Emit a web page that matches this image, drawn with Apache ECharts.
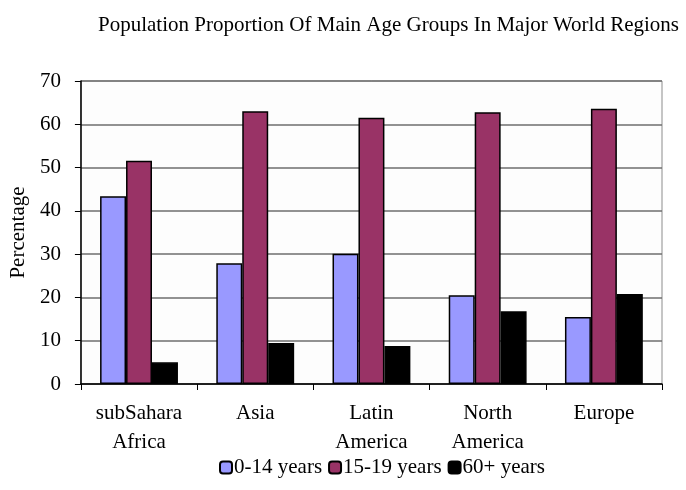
<!DOCTYPE html>
<html>
<head>
<meta charset="utf-8">
<script src="https://cdn.jsdelivr.net/npm/echarts@6/dist/echarts.min.js"></script>
<style>
html, body { margin: 0; padding: 0; background: #fff; }
#chart { width: 686px; height: 490px; }
</style>
</head>
<body>
<div id="chart"></div>
<script>
// regions along the x axis
const regions = ['subSahara\nAfrica', 'Asia', 'Latin\nAmerica', 'North\nAmerica', 'Europe'];
// percentage of population in each age group
const age0to14 = [43.4, 27.9, 30.1, 20.5, 15.5];
const age15to19 = [51.6, 63.0, 61.5, 62.8, 63.6];
const age60plus = [5.0, 9.5, 8.8, 16.8, 20.8];
const yTicks = [0, 10, 20, 30, 40, 50, 60, 70];

const font = '"Liberation Serif", "Times New Roman", serif';
const chart = echarts.init(document.getElementById('chart'));

const bar = (name, data, color) => ({
    name: name,
    type: 'bar',
    data: data,
    barGap: '0%',
    barCategoryGap: '33%',
    itemStyle: { color: color, borderColor: '#000', borderWidth: 1.5 },
    emphasis: { disabled: true }
});

chart.setOption({
    animation: false,
    textStyle: { fontFamily: font, color: '#000' },
    title: {
        text: 'Population Proportion Of Main Age Groups In Major World Regions',
        left: 93,
        top: 10,
        textStyle: { fontFamily: font, fontSize: 21, fontWeight: 'normal', color: '#000' }
    },
    legend: {
        bottom: 7,
        left: 214,
        itemWidth: 12,
        itemHeight: 12,
        itemGap: 6,
        textStyle: { fontFamily: font, fontSize: 21, color: '#000', padding: [0, 0, 0, -3] },
        data: ['0-14 years', '15-19 years', '60+ years']
    },
    grid: {
        left: 80, right: 24, top: 81, bottom: 106,
        show: true, borderColor: '#8c8c8c', borderWidth: 1, backgroundColor: '#fdfdfd'
    },
    xAxis: {
        type: 'category',
        data: regions,
        axisLine: { lineStyle: { color: '#000', width: 1.5 } },
        axisTick: { show: true, length: 6, lineStyle: { color: '#000' } },
        axisLabel: { fontFamily: font, fontSize: 21, color: '#000', lineHeight: 29, margin: 15 }
    },
    yAxis: {
        type: 'value',
        min: yTicks[0],
        max: yTicks[yTicks.length - 1],
        interval: 10,
        name: 'Percentage',
        nameLocation: 'middle',
        nameGap: 51,
        nameTextStyle: { fontFamily: font, fontSize: 21, color: '#000' },
        axisLine: { show: true, lineStyle: { color: '#000', width: 1.5 } },
        axisTick: { show: true, length: 6, lineStyle: { color: '#000' } },
        axisLabel: { fontFamily: font, fontSize: 21, color: '#000', margin: 20 },
        splitLine: { lineStyle: { color: '#6e6e6e', width: 1.5 } }
    },
    series: [
        bar('0-14 years', age0to14, '#9999ff'),
        bar('15-19 years', age15to19, '#993366'),
        bar('60+ years', age60plus, '#000000')
    ]
});
</script>
</body>
</html>
